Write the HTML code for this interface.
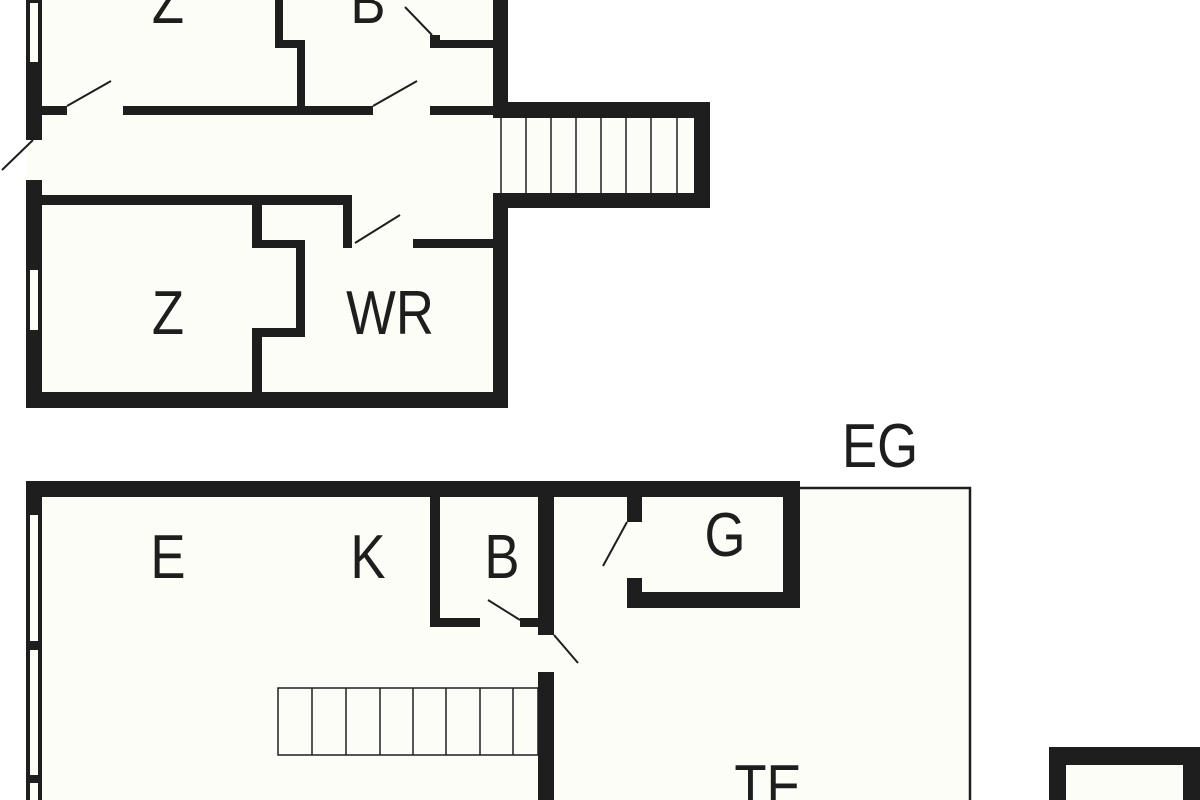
<!DOCTYPE html>
<html><head><meta charset="utf-8"><style>html,body{margin:0;padding:0;background:#fff;}svg{display:block}</style></head>
<body>
<svg width="1200" height="800" viewBox="0 0 1200 800" xmlns="http://www.w3.org/2000/svg">
<g fill="#fdfdf7">
<rect x="26" y="0" width="482" height="408"/>
<rect x="493" y="102" width="217" height="106"/>
<rect x="26" y="481" width="774" height="319"/>
<rect x="798" y="488" width="172" height="312"/>
<rect x="1049" y="747" width="151" height="53"/>
</g>
<g stroke="#1e1e1e" stroke-width="2.5" fill="none">
<polyline points="798,488 970,488 970,800"/>
</g>
<g fill="#1e1e1e">
<rect x="26" y="0" width="16" height="408"/>
<rect x="26" y="392" width="482" height="16"/>
<rect x="493" y="0" width="15" height="118"/>
<rect x="493" y="193" width="15" height="215"/>
<rect x="493" y="102" width="217" height="16"/>
<rect x="493" y="193" width="217" height="15"/>
<rect x="694" y="102" width="16" height="106"/>
<rect x="42" y="106" width="25" height="9"/>
<rect x="123" y="106" width="174" height="9"/>
<rect x="297" y="106" width="76" height="9"/>
<rect x="430" y="106" width="63" height="9"/>
<rect x="275" y="0" width="8" height="48"/>
<rect x="275" y="40" width="30" height="8"/>
<rect x="297" y="40" width="8" height="75"/>
<rect x="430" y="35" width="10" height="13"/>
<rect x="430" y="40" width="63" height="8"/>
<rect x="42" y="195" width="310" height="10"/>
<rect x="343" y="195" width="9" height="53"/>
<rect x="413" y="239" width="80" height="9"/>
<rect x="252" y="205" width="10" height="43"/>
<rect x="252" y="240" width="53" height="8"/>
<rect x="296" y="240" width="9" height="97"/>
<rect x="252" y="328" width="53" height="9"/>
<rect x="252" y="328" width="10" height="64"/>
<rect x="26" y="481" width="774" height="16"/>
<rect x="26" y="481" width="16" height="319"/>
<rect x="430" y="497" width="10" height="130"/>
<rect x="430" y="618" width="50" height="9"/>
<rect x="520" y="618" width="20" height="9"/>
<rect x="538" y="497" width="16" height="138"/>
<rect x="538" y="672" width="16" height="128"/>
<rect x="627" y="497" width="15" height="25"/>
<rect x="627" y="578" width="15" height="30"/>
<rect x="627" y="592" width="173" height="16"/>
<rect x="783" y="481" width="17" height="127"/>
<rect x="1049" y="747" width="151" height="53"/>
</g>
<g fill="#fdfdf7">
<rect x="30" y="3" width="8" height="59"/>
<rect x="30" y="270" width="8" height="60"/>
<rect x="26" y="140" width="16" height="40"/>
<rect x="30" y="515" width="8" height="126"/>
<rect x="30" y="650" width="8" height="125"/>
<rect x="30" y="783" width="8" height="20"/>
<rect x="1066" y="765" width="117" height="40"/>
<rect x="500" y="118" width="194" height="75"/>
</g>
<g stroke="#1e1e1e" stroke-width="2" fill="none">
<line x1="33" y1="140" x2="2" y2="170"/>
<line x1="67" y1="106" x2="111" y2="81"/>
<line x1="373" y1="106" x2="417" y2="81"/>
<line x1="432" y1="35" x2="405" y2="7"/>
<line x1="355" y1="243" x2="400" y2="215"/>
<line x1="488" y1="600" x2="520" y2="620"/>
<line x1="554" y1="635" x2="578" y2="663"/>
<line x1="627" y1="522" x2="603" y2="566"/>
</g>
<g stroke="#1e1e1e" stroke-width="1.5">
<line x1="501" y1="118" x2="501" y2="193"/>
<line x1="526" y1="118" x2="526" y2="193"/><line x1="551" y1="118" x2="551" y2="193"/>
<line x1="576" y1="118" x2="576" y2="193"/><line x1="601" y1="118" x2="601" y2="193"/>
<line x1="626" y1="118" x2="626" y2="193"/><line x1="651" y1="118" x2="651" y2="193"/>
<line x1="677" y1="118" x2="677" y2="193"/>
<rect x="278" y="688" width="260" height="67" fill="none"/>
<line x1="312" y1="688" x2="312" y2="755"/><line x1="346" y1="688" x2="346" y2="755"/>
<line x1="380" y1="688" x2="380" y2="755"/><line x1="413" y1="688" x2="413" y2="755"/>
<line x1="446" y1="688" x2="446" y2="755"/><line x1="480" y1="688" x2="480" y2="755"/>
<line x1="513" y1="688" x2="513" y2="755"/>
</g>
<g font-family="Liberation Sans, sans-serif" font-size="62" fill="#1e1e1e" text-anchor="middle">
<text transform="translate(168,23) scale(0.85,1)">Z</text>
<text transform="translate(368,23) scale(0.85,1)">B</text>
<text transform="translate(168,334) scale(0.85,1)">Z</text>
<text transform="translate(390,334) scale(0.85,1)">WR</text>
<text transform="translate(880,467) scale(0.85,1)">EG</text>
<text transform="translate(168,578) scale(0.85,1)">E</text>
<text transform="translate(368,578) scale(0.85,1)">K</text>
<text transform="translate(502,578) scale(0.85,1)">B</text>
<text transform="translate(725,556) scale(0.85,1)">G</text>
<text transform="translate(768,808) scale(0.85,1)">TE</text>
</g>
</svg>
</body></html>
